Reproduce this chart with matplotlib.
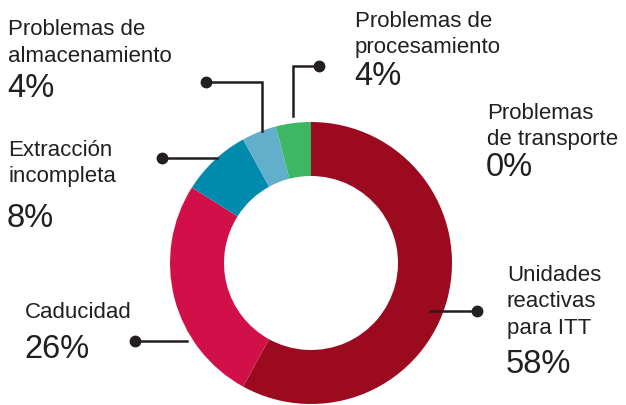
import matplotlib
matplotlib.use("Agg")
import matplotlib.pyplot as plt

plt.rcParams['font.family'] = ['Liberation Sans', 'DejaVu Sans']

# data
categories = ["Unidades\nreactivas\npara ITT", "Caducidad", "Extracción\nincompleta",
              "Problemas de\nalmacenamiento", "Problemas de\nprocesamiento",
              "Problemas\nde transporte"]
values = [58, 26, 8, 4, 4, 0]
colors = ["#9B0A1E", "#D10F49", "#008BAE", "#61AFCB", "#3DB764", "#888888"]

W, H = 626, 406
TXT = "#231F20"

fig = plt.figure(figsize=(W / 100, H / 100), dpi=100)
ax = fig.add_axes([0, 0, 1, 1])

# donut (skip zero slices)
vals = [v for v in values if v > 0]
cols = [c for v, c in zip(values, colors) if v > 0]
ax.pie(vals, colors=cols, startangle=90, counterclock=False,
       center=(311, H - 264), radius=141, frame=True,
       wedgeprops=dict(width=54, linewidth=0))
ax.set_xlim(0, W)
ax.set_ylim(0, H)
ax.axis("off")

# label layout: (x, baseline of first label line, baseline of percent)
layout = [
    (507, 281, 373),
    (25, 318, 358),
    (8, 156, 227),
    (8, 35, 97),
    (355, 27, 85),
    (487, 119, 176),
]
for cat, v, (x, yl, yp) in zip(categories, values, layout):
    lines = cat.split("\n")
    for i, ln in enumerate(lines):
        ax.text(x, H - (yl + 26.5 * i), ln, fontsize=16, color=TXT,
                ha="left", va="baseline")
    ax.text(x - 1, H - yp, f"{v}%", fontsize=23.5, color=TXT,
            ha="left", va="baseline")

# leader lines: polyline points (pixel coords), dot at last point
leaders = [
    [(430, 312), (477, 312)],
    [(187, 342), (135, 342)],
    [(217, 159), (162, 159)],
    [(262, 132), (262, 83), (206, 83)],
    [(293, 117), (293, 67), (319, 67)],
]
for pts in leaders:
    xs = [p[0] for p in pts]
    ys = [H - p[1] for p in pts]
    ax.plot(xs, ys, color=TXT, lw=1.8, solid_joinstyle="miter", zorder=3)
    ax.plot(xs[-1], ys[-1], "o", color=TXT, ms=7.5, zorder=4)

fig.savefig("out.png", dpi=100)
